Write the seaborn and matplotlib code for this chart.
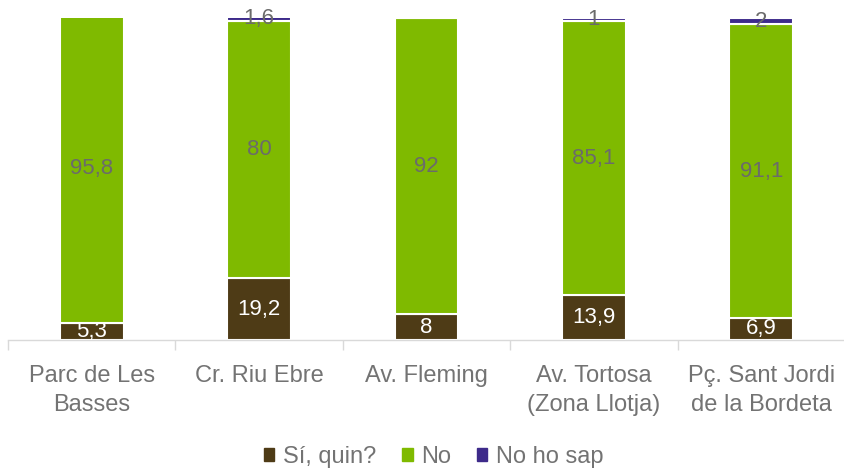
import matplotlib
matplotlib.use("Agg")
import matplotlib.pyplot as plt
import seaborn as sns
import numpy as np
from matplotlib.patches import Patch

# data
places = ["Parc de Les\nBasses", "Cr. Riu Ebre", "Av. Fleming",
          "Av. Tortosa\n(Zona Llotja)", "Pç. Sant Jordi\nde la Bordeta"]
si_quin = [5.3, 19.2, 8, 13.9, 6.9]
no = [95.8, 80, 92, 85.1, 91.1]
no_ho_sap = [0, 1.6, 0, 1, 2]

series_names = ["Sí, quin?", "No", "No ho sap"]
colors = ["#4E3B16", "#7FBA00", "#3D2A8A"]
text_colors = ["white", "#6B6B6B", "#6B6B6B"]
grey = "#737373"

sns.set_style("white")
plt.rcParams['font.family'] = ['Liberation Sans', 'DejaVu Sans']

fig = plt.figure(figsize=(8.45, 4.68), dpi=100)
ax = fig.add_axes([0.0095, 0.2735, 0.9905, 0.688])

x = np.arange(len(places))
bottom = np.zeros(len(places))
for i, (name, vals, col, tcol) in enumerate(zip(series_names, [si_quin, no, no_ho_sap], colors, text_colors)):
    vals = np.array(vals, dtype=float)
    sns.barplot(x=x, y=vals, bottom=bottom, color=col, width=0.38, saturation=1,
                edgecolor="white", linewidth=1.5, ax=ax, native_scale=True)
    for xi, b, v in zip(x, bottom, vals):
        if v > 0:
            lab = f"{v:g}".replace(".", ",")
            ax.text(xi, b + v / 2, lab, ha="center", va="center",
                    fontsize=16, color=tcol, clip_on=(i == 0))
    bottom += vals

ax.set_xlim(-0.5, len(places) - 0.5)
ax.set_ylim(0, 100)
ax.set_yticks([])
ax.set_xticks(x)
ax.set_xticklabels(places, fontsize=17, color=grey, linespacing=1.4)
ax.set_xticks(np.arange(-0.5, len(places), 1), minor=True)
ax.tick_params(axis="x", which="major", length=0, pad=18)
ax.tick_params(axis="x", which="minor", bottom=True, length=7.5, color="#D9D9D9", width=1)
ax.set_xlabel("")
for s in ["top", "right", "left"]:
    ax.spines[s].set_visible(False)
ax.spines["bottom"].set_color("#D9D9D9")
ax.spines["bottom"].set_linewidth(1)

handles = [Patch(color=c, label=n) for n, c in zip(series_names, colors)]
fig.legend(handles=handles, loc="center", bbox_to_anchor=(0.513, 0.024), ncol=3,
           frameon=False, fontsize=17, handlelength=0.45, handleheight=0.45,
           handletextpad=0.35, columnspacing=1.1, labelcolor=grey)

fig.savefig("out.png", dpi=100)
